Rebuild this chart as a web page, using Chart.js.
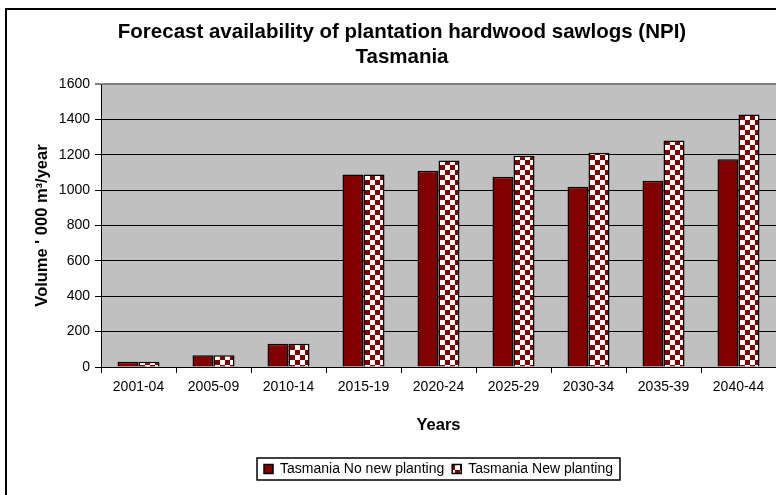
<!DOCTYPE html>
<html>
<head>
<meta charset="utf-8">
<script src="https://cdn.jsdelivr.net/npm/chart.js@4/dist/chart.umd.min.js"></script>
<style>
  html, body { margin: 0; padding: 0; background: #fff; }
  #wrap { width: 776px; height: 495px; }
</style>
</head>
<body>
<div id="wrap"><canvas id="chart" width="776" height="495"></canvas></div>
<script>
// data
const years = ['2001-04', '2005-09', '2010-14', '2015-19', '2020-24', '2025-29', '2030-34', '2035-39', '2040-44'];
const noNewPlanting = [30, 66, 132, 1089, 1110, 1076, 1019, 1053, 1175];
const newPlanting = [30, 66, 132, 1089, 1167, 1195, 1212, 1280, 1428];
const yTicks = [0, 200, 400, 600, 800, 1000, 1200, 1400, 1600];

const FONT = "'Liberation Sans', Arial, sans-serif";
const maroon = '#800000';

// checkerboard fill for the "New planting" bars
function makeChecker() {
  const c = document.createElement('canvas');
  c.width = 10;
  c.height = 10;
  const g = c.getContext('2d');
  g.fillStyle = '#ffffff';
  g.fillRect(0, 0, 10, 10);
  g.fillStyle = maroon;
  g.fillRect(5, 0, 5, 5);
  g.fillRect(0, 5, 5, 5);
  return g.createPattern(c, 'repeat');
}
const checker = makeChecker();

// white page, outer frame, grey plot background, box round the legend
const framePlugin = {
  id: 'frame',
  beforeDraw(chart) {
    const { ctx, chartArea } = chart;
    ctx.save();
    ctx.fillStyle = '#fff';
    ctx.fillRect(0, 0, chart.width, chart.height);
    ctx.strokeStyle = '#000';
    ctx.lineWidth = 2;
    ctx.beginPath();
    ctx.moveTo(6, chart.height);
    ctx.lineTo(6, 9);
    ctx.lineTo(chart.width, 9);
    ctx.stroke();
    ctx.fillStyle = '#c0c0c0';
    ctx.fillRect(chartArea.left, chartArea.top, chartArea.right - chartArea.left, chartArea.bottom - chartArea.top);
    ctx.restore();
  },
  afterLayout(chart) {
    // center the legend under the plot, not under the whole canvas
    const lg = chart.legend;
    lg.left = chart.chartArea.left;
    lg.right = chart.chartArea.right;
  },
  afterDraw(chart) {
    const boxes = chart.legend.legendHitBoxes;
    if (!boxes || !boxes.length) return;
    const first = boxes[0];
    const last = boxes[boxes.length - 1];
    const ctx = chart.ctx;
    ctx.save();
    ctx.strokeStyle = '#000';
    ctx.lineWidth = 1.5;
    ctx.strokeRect(first.left - 7, first.top - 4, last.left + last.width - first.left + 14, first.height + 8);
    ctx.restore();
  }
};

new Chart(document.getElementById('chart').getContext('2d'), {
  type: 'bar',
  data: {
    labels: years,
    datasets: [
      {
        label: 'Tasmania No new planting',
        data: noNewPlanting,
        backgroundColor: maroon,
        borderColor: '#000',
        borderWidth: 1.5
      },
      {
        label: 'Tasmania New planting',
        data: newPlanting,
        backgroundColor: checker,
        borderColor: '#000',
        borderWidth: 1.5
      }
    ]
  },
  options: {
    responsive: false,
    animation: false,
    devicePixelRatio: 1,
    layout: { padding: { left: 28, right: 0, top: 0, bottom: 9 } },
    datasets: {
      bar: { categoryPercentage: 0.56, barPercentage: 1 }
    },
    plugins: {
      title: {
        display: true,
        text: ['Forecast availability of plantation hardwood sawlogs (NPI)', 'Tasmania'],
        color: '#000',
        font: { family: FONT, size: 20.5, weight: 'bold', lineHeight: 1.22 },
        padding: { top: 20, bottom: 14 }
      },
      legend: {
        position: 'bottom',
        labels: {
          color: '#000',
          font: { family: FONT, size: 14 },
          boxWidth: 9,
          boxHeight: 9,
          padding: 8
        }
      },
      tooltip: { enabled: false }
    },
    scales: {
      x: {
        offset: true,
        grid: {
          offset: true,
          drawOnChartArea: false,
          color: '#000',
          tickLength: 6
        },
        border: { color: '#000', width: 1 },
        ticks: { color: '#000', font: { family: FONT, size: 14 }, padding: 6, maxRotation: 0 },
        title: {
          display: true,
          text: 'Years',
          color: '#000',
          font: { family: FONT, size: 16.5, weight: 'bold' },
          padding: { top: 0, bottom: 19 }
        },
        afterFit(scale) { scale.height = 87; }
      },
      y: {
        min: 0,
        max: 1600,
        afterBuildTicks(scale) { scale.ticks = yTicks.map(v => ({ value: v })); },
        grid: {
          color: ctx => ctx.tick && ctx.tick.value === 1600 ? '#808080' : '#000',
          lineWidth: ctx => ctx.tick && ctx.tick.value === 1600 ? 2 : 1,
          tickLength: 6
        },
        border: { color: '#000', width: 1 },
        ticks: {
          color: '#000',
          font: { family: FONT, size: 14 },
          padding: 5,
          callback: v => String(v)
        },
        title: {
          display: true,
          text: 'Volume \' 000 m³/year',
          color: '#000',
          font: { family: FONT, size: 16.5, weight: 'bold' },
          padding: { top: 4.5, bottom: 0 }
        },
        afterFit(scale) { scale.width = 73; }
      }
    }
  },
  plugins: [framePlugin]
});
</script>
</body>
</html>
